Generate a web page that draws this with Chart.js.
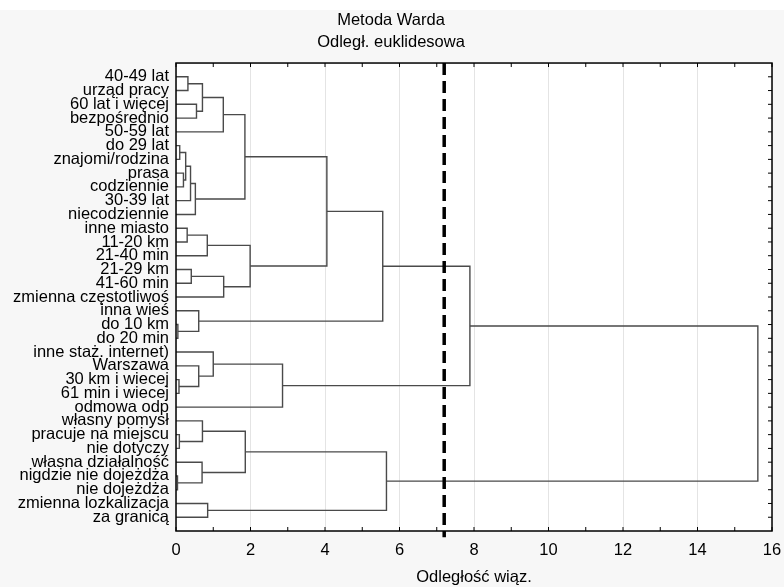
<!DOCTYPE html>
<html>
<head>
<meta charset="utf-8">
<script src="https://cdn.jsdelivr.net/npm/chart.js@4/dist/chart.umd.min.js"></script>
<style>
  body { margin: 0; background: #fff; }
  #wrap { width: 784px; height: 577px; margin-top: 10px; background: #f7f7f7; }
</style>
</head>
<body>
<div id="wrap"><canvas id="chart" width="784" height="577"></canvas></div>
<script>
// ─── Data ─────────────────────────────────────────────────────────────────────

// leaves, top to bottom
const leafLabels = [
  '40-49 lat', 'urząd pracy', '60 lat i więcej', 'bezpośrednio', '50-59 lat',
  'do 29 lat', 'znajomi/rodzina', 'prasa', 'codziennie', '30-39 lat',
  'niecodziennie', 'inne miasto', '11-20 km', '21-40 min', '21-29 km',
  '41-60 min', 'zmienna częstotliwoś', 'inna wieś', 'do 10 km', 'do 20 min',
  'inne staż. internet)', 'Warszawa', '30 km i wiecej', '61 min i wiecej', 'odmowa odp',
  'własny pomysł', 'pracuje na miejscu', 'nie dotyczy', 'własna działalność', 'nigdzie nie dojeżdża',
  'nie dojeżdża', 'zmienna lozkalizacja', 'za granicą'
];

// linkage: merge k creates node 33 + k out of mergeLeft[k] and mergeRight[k]
const mergeLeft   = [18, 22, 29, 26,  5,  7, 37,  0, 11, 39, 14, 42,  2, 17, 21, 40,
                     25, 28, 41, 31, 20, 48, 43, 54, 49, 51, 53, 56, 60, 57, 61, 63];
const mergeRight  = [19, 23, 30, 27,  6,  8, 38,  1, 12,  9, 15, 10,  3, 33, 34, 45,
                     36, 35, 13, 32, 47,  4, 16, 44, 50, 55, 24, 58, 46, 52, 59, 62];
const mergeHeight = [0.05, 0.08, 0.04, 0.09, 0.10, 0.20, 0.26, 0.32, 0.30, 0.39, 0.41, 0.52, 0.55, 0.61, 0.61, 0.71,
                     0.71, 0.70, 0.84, 0.85, 1.00, 1.27, 1.28, 1.85, 1.86, 1.99, 2.86, 4.05, 5.55, 5.65, 7.89, 15.62];

const cutoff = 7.2;

// ─── Style ────────────────────────────────────────────────────────────────────

const FONT  = "'Liberation Sans', Arial, sans-serif";
const FSIZE = 16.5;
const LINE  = '#4a4a4a';
const PAD_L = 10;   // nudges the title centre right; labels still fit

// ─── Tree geometry (node position = middle of its children) ──────────────────

const nodeY = leafLabels.map((_, i) => i);
const nodeH = leafLabels.map(() => 0);
mergeLeft.forEach((a, k) => {
  const b = mergeRight[k];
  nodeY.push((nodeY[a] + nodeY[b]) / 2);
  nodeH.push(mergeHeight[k]);
});

const bracketSets = mergeLeft.map((a, k) => {
  const b = mergeRight[k];
  const h = mergeHeight[k];
  return {
    data: [
      { x: nodeH[a], y: nodeY[a] },
      { x: h,        y: nodeY[a] },
      { x: h,        y: nodeY[b] },
      { x: nodeH[b], y: nodeY[b] },
    ],
    showLine: true,
    borderColor: LINE,
    borderWidth: 1.4,
    pointRadius: 0,
    fill: false,
  };
});

const cutoffSet = {
  data: [{ x: cutoff, y: -1 }, { x: cutoff, y: 33.45 }],
  showLine: true,
  borderColor: '#000',
  borderWidth: 3.5,
  borderDash: [12, 6],
  pointRadius: 0,
  clip: false,
};

// ─── Frame with inward ticks ──────────────────────────────────────────────────

const framePlugin = {
  id: 'frame',
  beforeDraw(chart) {
    const { ctx, chartArea: a } = chart;
    ctx.save();
    ctx.fillStyle = '#fff';
    ctx.fillRect(a.left, a.top, a.width, a.height);
    ctx.restore();
  },
  afterDraw(chart) {
    const { ctx, chartArea: a, scales: { x, y } } = chart;
    const seg = (x1, y1, x2, y2) => { ctx.beginPath(); ctx.moveTo(x1, y1); ctx.lineTo(x2, y2); ctx.stroke(); };
    ctx.save();
    ctx.strokeStyle = '#000';
    ctx.lineWidth = 1;
    x.ticks.forEach(t => {
      const px = x.getPixelForValue(t.value);
      seg(px, a.top, px, a.top + 4);
      seg(px, a.bottom, px, a.bottom - 4);
    });
    y.ticks.forEach(t => {
      if (t.value < 0 || t.value >= leafLabels.length) return;
      const py = y.getPixelForValue(t.value);
      seg(a.right, py, a.right - 4, py);
    });
    ctx.lineWidth = 1.5;
    ctx.strokeRect(a.left, a.top, a.width, a.height);
    ctx.restore();
  },
};

// ─── Chart ────────────────────────────────────────────────────────────────────

new Chart(document.getElementById('chart'), {
  type: 'scatter',
  data: { datasets: [cutoffSet, ...bracketSets] },
  plugins: [framePlugin],
  options: {
    responsive: false,
    animation: false,
    layout: { padding: { left: PAD_L, right: 12, top: 0, bottom: 0 } },
    plugins: {
      legend: { display: false },
      tooltip: { enabled: false },
      title: {
        display: true,
        text: ['Metoda Warda', 'Odległ. euklidesowa'],
        color: '#000',
        font: { family: FONT, size: FSIZE, weight: 'normal', lineHeight: 1.31 },
        padding: { top: 0, bottom: 9.8 },
      },
    },
    scales: {
      x: {
        type: 'linear',
        position: 'bottom',
        min: 0, max: 16,
        afterFit: s => { s.height = 56; s.paddingLeft = 0; s.paddingRight = 0; },
        grid: {
          drawTicks: false,
          lineWidth: 1,
          color: c => (c.tick && c.tick.value % 2 === 0 ? '#e4e4e4' : 'rgba(0,0,0,0)'),
        },
        border: { display: false },
        ticks: {
          stepSize: 1,
          autoSkip: false,
          maxRotation: 0,
          padding: 9.5,
          color: '#000',
          font: { family: FONT, size: FSIZE },
          callback: v => (v % 2 === 0 ? String(v) : ''),
        },
        title: {
          display: true,
          text: 'Odległość wiąz.',
          color: '#000',
          font: { family: FONT, size: FSIZE },
          padding: { top: 0, bottom: 0 },
        },
      },
      y: {
        type: 'linear',
        reverse: true,
        min: -1, max: 33,
        afterFit: s => { s.width = 176 - PAD_L; s.paddingTop = 0; s.paddingBottom = 0; },
        grid: { display: false, drawTicks: false },
        border: { display: false },
        ticks: {
          stepSize: 1,
          autoSkip: false,
          padding: 7,
          color: '#000',
          font: { family: FONT, size: FSIZE, lineHeight: 1 },
          callback: v => leafLabels[v] ?? '',
        },
      },
    },
  },
});
</script>
</body>
</html>
